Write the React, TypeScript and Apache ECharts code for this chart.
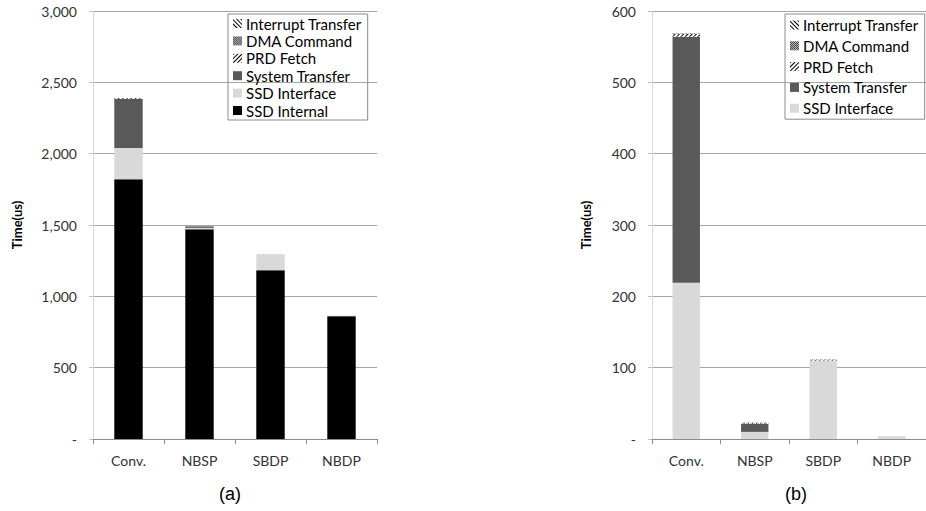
import React, { useEffect, useRef } from "react";
import * as echarts from "echarts";

const categories = ["Conv.", "NBSP", "SBDP", "NBDP"];
const ssdInternal = [1820, 1470, 1183, 861];
const ssdInterface = [219, 10, 110, 4];
const systemTransfer = [345, 11, 0, 0];
const prdFetch = [4, 1, 1, 0];
const dmaCommand = [0.5, 0.5, 0.3, 0];
const interruptTransfer = [0.5, 0.5, 0.3, 0];

const legendA = ["Interrupt Transfer", "DMA Command", "PRD Fetch", "System Transfer", "SSD Interface", "SSD Internal"];
const legendB = ["Interrupt Transfer", "DMA Command", "PRD Fetch", "System Transfer", "SSD Interface"];

const FONT = "Lato, 'Open Sans', sans-serif";
const TXT = "#333";

const fmtA = (v: number) => (v === 0 ? "-" : v.toLocaleString("en-US"));

export default function App() {
  const ref = useRef<HTMLDivElement>(null);
  useEffect(() => {
    if (!ref.current) return;
    const chart = echarts.init(ref.current, undefined, { renderer: "svg" });

    const styles: Record<string, any> = {
      "SSD Internal": { color: "#000000" },
      "SSD Interface": { color: "#d9d9d9" },
      "System Transfer": { color: "#595959" },
      "PRD Fetch": {
        color: "#ffffff",
        decal: { symbol: "rect", color: "#000", backgroundColor: "#fff", dashArrayX: [1, 0], dashArrayY: [1, 2], rotation: -Math.PI / 4, symbolSize: 1 },
      },
      "DMA Command": {
        color: "#ffffff",
        decal: { symbol: "rect", color: "#000", backgroundColor: "#777", dashArrayX: [[1, 1], [0, 1, 1, 0]], dashArrayY: [1, 0], symbolSize: 1 },
      },
      "Interrupt Transfer": {
        color: "#ffffff",
        decal: { symbol: "rect", color: "#000", backgroundColor: "#fff", dashArrayX: [1, 0], dashArrayY: [1, 2], rotation: Math.PI / 4, symbolSize: 1 },
      },
    };

    const seriesData: [string, number[]][] = [
      ["SSD Internal", ssdInternal],
      ["SSD Interface", ssdInterface],
      ["System Transfer", systemTransfer],
      ["PRD Fetch", prdFetch],
      ["DMA Command", dmaCommand],
      ["Interrupt Transfer", interruptTransfer],
    ];

    const series: any[] = [];
    seriesData.forEach(([name, data]) => {
      series.push({
        type: "bar", name, data, stack: "a", xAxisIndex: 0, yAxisIndex: 0,
        barWidth: "40%", itemStyle: styles[name],
      });
      if (name !== "SSD Internal") {
        series.push({
          type: "bar", name, data, stack: "b", xAxisIndex: 1, yAxisIndex: 1,
          barWidth: "40%", itemStyle: styles[name],
        });
      }
    });

    const xAxisBase = (gridIndex: number) => ({
      type: "category", gridIndex, data: categories,
      axisLine: { lineStyle: { color: "#8c8c8c", width: 1 } },
      axisTick: { show: true, length: 5, lineStyle: { color: "#8c8c8c" } },
      axisLabel: { color: TXT, fontFamily: FONT, fontSize: 14, margin: 14 },
    });
    const yAxisBase = (gridIndex: number, max: number, interval: number, nameGap: number) => ({
      type: "value", gridIndex, min: 0, max, interval,
      name: "Time(us)", nameLocation: "middle", nameGap,
      nameTextStyle: { color: "#000", fontFamily: FONT, fontSize: 13, fontWeight: "bold" },
      axisLine: { show: true, lineStyle: { color: "#d9d9d9" } },
      axisTick: { show: true, length: 4, lineStyle: { color: "#bfbfbf" } },
      splitLine: { show: true, lineStyle: { color: "#a6a6a6", width: 1 } },
      axisLabel: { color: TXT, fontFamily: FONT, fontSize: 14, margin: 16, formatter: fmtA },
    });

    const legendBase = {
      orient: "vertical", icon: "rect", itemWidth: 9, itemHeight: 9,
      borderColor: "#8c8c8c", borderWidth: 1, borderRadius: 0,
      selectedMode: false,
    };

    chart.setOption({
      animation: false,
      backgroundColor: "#fff",
      grid: [
        { left: 93, width: 284, top: 11, height: 428 },
        { left: 652, width: 284, top: 11, height: 428 },
      ],
      xAxis: [xAxisBase(0), xAxisBase(1)],
      yAxis: [yAxisBase(0, 3000, 500, 70), yAxisBase(1, 600, 100, 60)],
      legend: [
        {
          ...legendBase, data: legendA, left: 228, top: 14, itemGap: 2.4, padding: [2, 6, 2, 5],
          textStyle: { color: "#000", fontFamily: FONT, fontSize: 15, lineHeight: 15, padding: [0, 0, 0, -1] },
        },
        {
          ...legendBase, data: legendB, left: 785, top: 14, itemGap: 4.8, padding: [3, 6, 3, 5],
          textStyle: { color: "#000", fontFamily: FONT, fontSize: 15, lineHeight: 16, padding: [0, 0, 0, -1] },
        },
      ],
      graphic: [
        { type: "text", left: 229 - 10, top: 485, style: { text: "(a)", fontFamily: "'Liberation Sans', Arial, sans-serif", fontSize: 18, fill: "#000" } },
        { type: "text", left: 795 - 10, top: 485, style: { text: "(b)", fontFamily: "'Liberation Sans', Arial, sans-serif", fontSize: 18, fill: "#000" } },
      ],
      series,
    });
    return () => chart.dispose();
  }, []);
  return <div ref={ref} style={{ width: 926, height: 511, position: "absolute", left: 0, top: 0 }} />;
}
